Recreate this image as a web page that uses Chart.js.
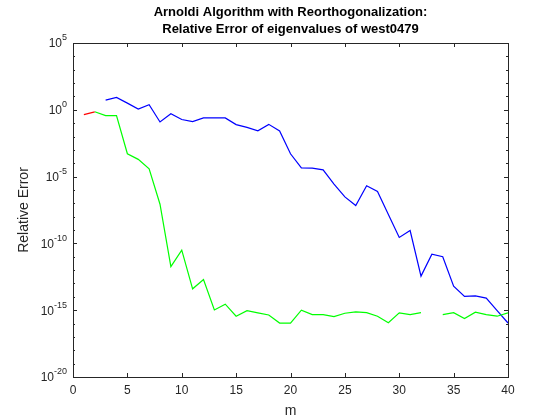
<!DOCTYPE html>
<html>
<head>
<meta charset="utf-8">
<script src="https://cdn.jsdelivr.net/npm/chart.js@4/dist/chart.umd.min.js"></script>
<style>
  body { margin: 0; background: #fff; }
  #wrap { width: 560px; height: 420px; }
</style>
</head>
<body>
<div id="wrap"><canvas id="c"></canvas></div>
<script>
// valeurs (log10 de l'erreur relative)
const m = [];
for (let i = 1; i <= 40; i++) m.push(i);

const redLog = [-0.36, -0.15];
const greenLog = [null, -0.15, -0.43, -0.43, -3.29, -3.71, -4.42, -7.07, -11.74, -10.5,
  -13.4, -12.7, -14.98, -14.55, -15.45, -15.03, -15.2, -15.36, -15.96, -15.96,
  -15.0, -15.33, -15.33, -15.48, -15.23, -15.13, -15.18, -15.45, -15.94, -15.2,
  -15.33, -15.18, null, -15.33, -15.18, -15.63, -15.15, -15.33, -15.45, -15.2];
const blueLog = [null, null, 0.73, 0.93, 0.5, 0.05, 0.38, -0.91, -0.3, -0.73,
  -0.89, -0.61, -0.61, -0.61, -1.11, -1.32, -1.57, -1.09, -1.59, -3.29,
  -4.35, -4.37, -4.5, -5.56, -6.52, -7.17, -5.68, -6.11, -7.83, -9.55,
  -9.04, -12.45, -10.81, -11.0, -13.2, -13.97, -13.93, -14.09, -15.03, -15.96];

const xTicks = [0, 5, 10, 15, 20, 25, 30, 35, 40];
const yExp = [-20, -15, -10, -5, 0, 5];

function toPoints(arr) {
    return arr.map((v, i) => ({ x: m[i], y: v === null ? null : Math.pow(10, v) }));
}

const axisColor = '#262626';
const fontFam = 'Arial, "Liberation Sans", sans-serif';

// cadre, graduations internes, etiquettes 10^n et titre facon MATLAB
const matlabBox = {
    id: 'matlabBox',
    afterDraw(chart) {
        const c = chart.ctx, a = chart.chartArea;
        const xs = chart.scales.x, ys = chart.scales.y;
        c.save();
        c.strokeStyle = axisColor;
        c.lineWidth = 1;
        c.strokeRect(a.left + 0.5, a.top + 0.5, a.right - a.left, a.bottom - a.top);
        c.beginPath();
        xTicks.forEach(t => {
            const px = Math.round(xs.getPixelForValue(t)) + 0.5;
            c.moveTo(px, a.bottom); c.lineTo(px, a.bottom - 4);
            c.moveTo(px, a.top); c.lineTo(px, a.top + 4);
        });
        for (let e = -20; e <= 5; e++) {
            const py = Math.round(ys.getPixelForValue(Math.pow(10, e))) + 0.5;
            const len = (e % 5 === 0) ? 4 : 2;
            c.moveTo(a.left, py); c.lineTo(a.left + len, py);
            c.moveTo(a.right, py); c.lineTo(a.right - len, py);
        }
        c.stroke();
        // etiquettes de l'axe y avec exposant
        c.fillStyle = axisColor;
        c.textBaseline = 'middle';
        yExp.forEach(e => {
            const py = ys.getPixelForValue(Math.pow(10, e));
            c.font = '9px ' + fontFam;
            const ew = c.measureText(String(e)).width;
            c.textAlign = 'right';
            c.fillText(String(e), a.left - 6, py - 5);
            c.font = '12px ' + fontFam;
            c.fillText('10', a.left - 6 - ew, py + 1);
        });
        c.fillStyle = '#000';
        c.font = 'bold 13px ' + fontFam;
        c.textAlign = 'center';
        const cx = (a.left + a.right) / 2;
        c.fillText('Arnoldi Algorithm with Reorthogonalization:', cx, 12);
        c.fillText('Relative Error of eigenvalues of west0479', cx, 29);
        c.restore();
    }
};

new Chart(document.getElementById('c').getContext('2d'), {
    type: 'line',
    data: {
        datasets: [
            { data: toPoints(greenLog), borderColor: '#00ff00', borderWidth: 1.2, pointRadius: 0, spanGaps: false },
            { data: toPoints(blueLog), borderColor: '#0000ff', borderWidth: 1.2, pointRadius: 0, spanGaps: false },
            { data: toPoints(redLog), borderColor: '#ff0000', borderWidth: 1.2, pointRadius: 0 }
        ]
    },
    options: {
        responsive: true,
        maintainAspectRatio: false,
        animation: false,
        layout: { padding: { left: 0, right: 52, top: 43, bottom: 0 } },
        plugins: { legend: { display: false }, tooltip: { enabled: false } },
        scales: {
            x: {
                type: 'linear', min: 0, max: 40,
                grid: { display: false, drawTicks: false },
                border: { display: false },
                ticks: { stepSize: 5, color: axisColor, padding: 6,
                    font: { size: 12, family: fontFam } },
                title: { display: true, text: 'm', color: axisColor, padding: 0,
                    font: { size: 14, family: fontFam } },
                afterFit(s) { s.height = 43; }
            },
            y: {
                type: 'logarithmic', min: 1e-20, max: 1e5,
                grid: { display: false, drawTicks: false },
                border: { display: false },
                afterBuildTicks(s) { s.ticks = yExp.map(e => ({ value: Math.pow(10, e) })); },
                ticks: { color: 'rgba(0,0,0,0)', padding: 6, callback: () => '',
                    font: { size: 12, family: fontFam } },
                title: { display: true, text: 'Relative Error', color: axisColor,
                    padding: { top: 16, bottom: 0 },
                    font: { size: 14, family: fontFam } },
                afterFit(s) { s.width = 73; }
            }
        }
    },
    plugins: [matlabBox]
});
</script>
</body>
</html>
